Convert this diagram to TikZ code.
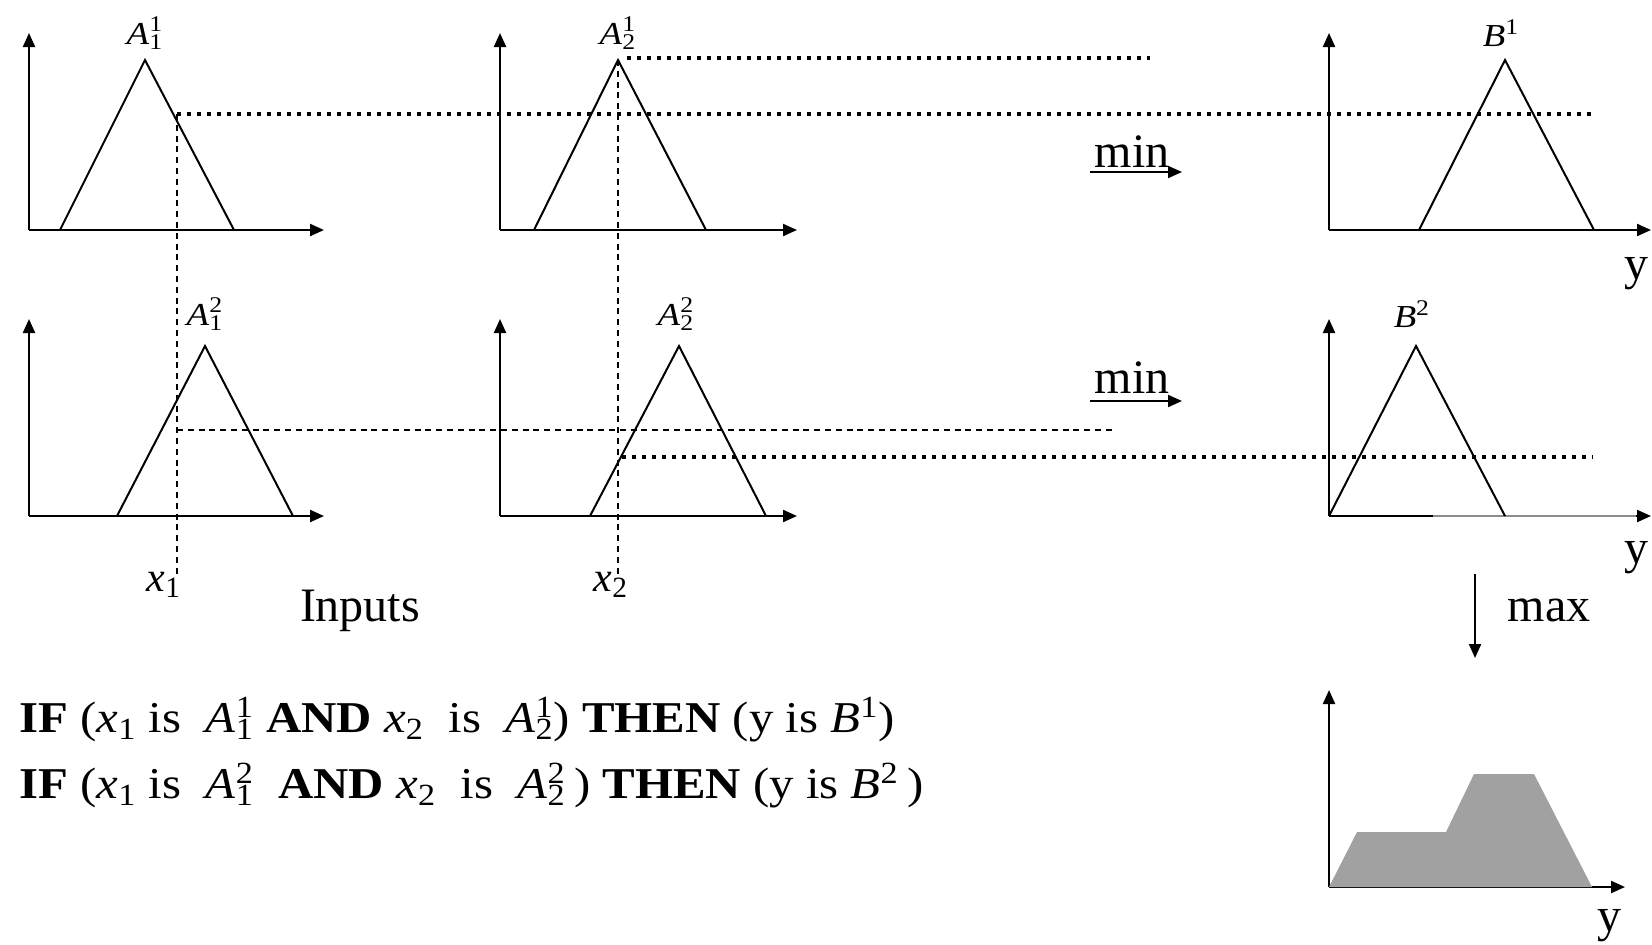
\documentclass[tikz,border=0pt]{standalone}
\usepackage{fontspec}
\usepackage{graphicx}
\setmainfont{Liberation Serif}
\usetikzlibrary{arrows.meta}

% fuzzy set name with stacked scripts
\newcommand{\fset}[3]{\textit{#1}\rlap{\textsuperscript{#3}}\textsubscript{#2}}
% wide setting of a label
\newcommand{\wide}[2]{\scalebox{#1}[1]{#2}}

\begin{document}
\begin{tikzpicture}[
  x=0.5pt, y=-0.5pt,
  every node/.style={inner sep=0pt},
  axis/.style={-{Triangle[length=7pt,width=6pt]}, line width=1.1pt},
  mf/.style={line width=1pt, line join=miter},
  cut/.style={line width=1.7pt, dash pattern=on 1.8pt off 3.2pt},
  guide/.style={line width=0.6pt, dash pattern=on 3pt off 2.4pt},
  setlabel/.style={font=\fontsize{16}{19}\selectfont},
  varlabel/.style={font=\fontsize{21}{25}\selectfont},
  biglabel/.style={font=\fontsize{24}{28}\selectfont},
  rule/.style={font=\fontsize{22}{26}\selectfont, anchor=west},
  oparrow/.style={-{Triangle[length=7pt,width=6pt]}, line width=1pt},
]
\useasboundingbox (0,0) rectangle (1652,944);

% Axes of all panels
\foreach \nm/\ox/\oy/\tx in {p11/29/230/324, p21/500/230/797, pb1/1329/230/1651,
    p12/29/516/324, p22/500/516/797, pb2/1329/516/1651, pag/1329/887/1625} {
  \coordinate (\nm) at (\ox,\oy);
  \draw[axis] (\nm) -- ++(0,-197);
  \draw[axis] (\nm) -- (\tx,\oy);
}
\draw[line width=1.1pt, black!45] (1433,516) -- (1636,516);

% Membership functions
\draw[mf] (60,230) -- (145,60) -- (234,230);
\draw[mf] (534,230) -- (618,60) -- (706,230);
\draw[mf] (1419,230) -- (1505,60) -- (1594,230);
\draw[mf] (117,516) -- (205,346) -- (293,516);
\draw[mf] (590,516) -- (679,346) -- (766,516);
\draw[mf] (1329,516) -- (1416,346) -- (1505,516);

% Aggregated output
\fill[black!37] (1329,887) -- (1357,832) -- (1446,832) -- (1474,774)
  -- (1534,774) -- (1592,887) -- cycle;

% Input lines and firing levels
\draw[guide] (177,114) -- (177,574);
\draw[guide] (618,60) -- (618,574);
\draw[cut] (177,114) -- (1596,114);
\draw[cut] (627,58) -- (1150,58);
\draw[guide] (177,430) -- (1115,430);
\draw[cut] (622,457) -- (1593,457);

% Set labels
\node[setlabel] (a11) at (145,33) {\wide{1.15}{\fset{A}{1}{1}}};
\node[setlabel] (a21) at (618,33) {\wide{1.15}{\fset{A}{2}{1}}};
\node[setlabel] (b1) at (1501,33) {\wide{1.15}{\textit{B}\textsuperscript{1}}};
\node[setlabel] (a12) at (205,314) {\wide{1.15}{\fset{A}{1}{2}}};
\node[setlabel] (a22) at (676,314) {\wide{1.15}{\fset{A}{2}{2}}};
\node[setlabel] (b2) at (1412,314) {\wide{1.15}{\textit{B}\textsuperscript{2}}};
\node[varlabel] (x1) at (164,585) {\textit{x}\textsubscript{1}};
\node[varlabel] (x2) at (611,585) {\textit{x}\textsubscript{2}};
\node[biglabel] (inputs) at (360,611) {Inputs};

% Operators
\node[biglabel] (min1) at (1132,152) {min};
\node[biglabel] (min2) at (1132,378) {min};
\coordinate (m1s) at (1090,172);
\coordinate (m1e) at (1182,172);
\coordinate (m2s) at (1090,401);
\coordinate (m2e) at (1182,401);
\draw[oparrow] (m1s) -- (m1e);
\draw[oparrow] (m2s) -- (m2e);
\coordinate (mxs) at (1475,574);
\coordinate (mxe) at (1475,658);
\draw[oparrow] (mxs) -- (mxe);
\node[biglabel] (max) at (1549,610) {max};

\node[biglabel] (y1) at (1636,274) {y};
\node[biglabel] (y2) at (1636,558) {y};
\node[biglabel] (y3) at (1609,926) {y};

% Rules
\node[rule] (rule1) at (19,720) {\wide{1.11}{\textbf{IF} (\textit{x}\textsubscript{1} is~ \fset{A}{1}{1} \textbf{AND} \textit{x}\textsubscript{2}~ is~ \fset{A}{2}{1}) \textbf{THEN} (y is \textit{B}\textsuperscript{1})}};
\node[rule] (rule2) at (19,786) {\wide{1.11}{\textbf{IF} (\textit{x}\textsubscript{1} is~ \fset{A}{1}{2}~ \textbf{AND} \textit{x}\textsubscript{2}~ is~ \fset{A}{2}{2}\,) \textbf{THEN} (y is \textit{B}\textsuperscript{2}\,)}};
\end{tikzpicture}
\end{document}
